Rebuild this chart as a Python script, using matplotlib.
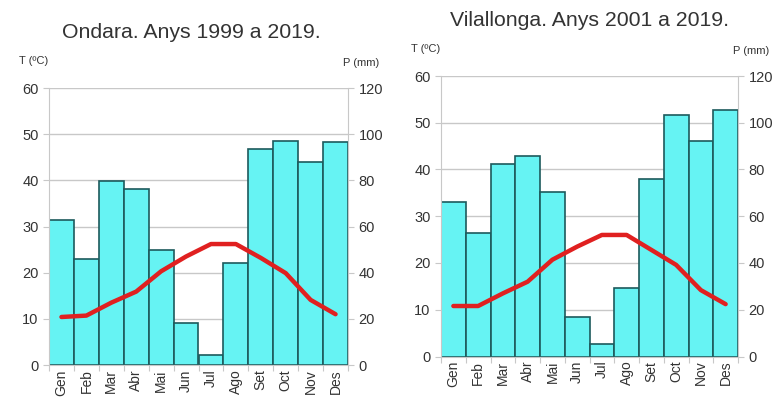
import matplotlib
matplotlib.use("Agg")
import matplotlib.pyplot as plt
import numpy as np

plt.rcParams['font.family'] = ['Liberation Sans', 'DejaVu Sans']

months = ['Gen', 'Feb', 'Mar', 'Abr', 'Mai', 'Jun', 'Jul', 'Ago', 'Set', 'Oct', 'Nov', 'Des']

ondara_prec = [62.6, 46.0, 79.7, 76.4, 50.0, 18.1, 4.3, 44.2, 93.5, 97.1, 88.0, 96.4]
ondara_temp = [10.4, 10.7, 13.5, 15.9, 20.3, 23.5, 26.2, 26.2, 23.2, 19.9, 14.1, 11.0]

vila_prec = [66.0, 52.8, 82.4, 85.9, 70.2, 17.0, 5.2, 29.5, 76.0, 103.4, 92.0, 105.6]
vila_temp = [10.8, 10.8, 13.5, 16.0, 20.7, 23.5, 26.0, 26.0, 22.8, 19.6, 14.2, 11.2]

BAR = '#66f3f3'
EDGE = '#1d5a5c'
RED = '#e02020'
GRID = '#c8c8c8'
TXT = '#333333'

fig = plt.figure(figsize=(7.77, 4.11), dpi=100)


def climograph(rect, title, title_xy, prec, temp):
    W, H = 777.0, 411.0
    x0, y0, x1, y1 = rect
    ax = fig.add_axes([x0 / W, 1 - y1 / H, (x1 - x0) / W, (y1 - y0) / H])
    ax2 = ax.twinx()
    ax.set_zorder(ax2.get_zorder() + 1)
    ax.patch.set_visible(False)

    x = np.arange(len(months))
    ax2.bar(x, prec, width=1.0, color=BAR, edgecolor=EDGE, linewidth=1.2, zorder=2)
    ax2.set_ylim(0, 120)
    ax2.set_yticks(np.arange(0, 121, 20))
    ax2.grid(axis='y', color=GRID, linewidth=1, zorder=0)
    ax2.set_axisbelow(True)

    ax.plot(x, temp, color=RED, linewidth=3.2, solid_capstyle='round')
    ax.set_ylim(0, 60)
    ax.set_yticks(np.arange(0, 61, 10))
    ax.set_xlim(-0.5, 11.5)
    ax.set_xticks(np.arange(-0.5, 12, 1))
    ax.set_xticklabels([])
    ax.set_xticks(x, minor=True)
    ax.set_xticklabels(months, minor=True, rotation=90, fontsize=10, color=TXT)
    ax.tick_params(axis='x', which='minor', length=0, pad=3)
    ax.tick_params(axis='x', which='major', length=4, color=GRID)

    for a in (ax, ax2):
        for s in a.spines.values():
            s.set_visible(False)
        a.tick_params(axis='y', length=4, color=GRID, labelcolor=TXT, labelsize=10.5)
    ax.spines['left'].set_visible(True)
    ax.spines['left'].set_color(GRID)
    ax2.spines['right'].set_visible(True)
    ax2.spines['right'].set_color(GRID)
    ax2.spines['bottom'].set_visible(True)
    ax2.spines['bottom'].set_color(GRID)

    fig.text(title_xy[0] / W, 1 - title_xy[1] / H, title, ha='center', va='center',
             fontsize=15.3, color=TXT)
    fig.text((x0 - 30) / W, 1 - (y0 - 27) / H, 'T (ºC)', ha='left', va='center',
             fontsize=8, color=TXT)
    fig.text((x1 + 31) / W, 1 - (y0 - 25) / H, 'P (mm)', ha='right', va='center',
             fontsize=8, color=TXT)
    return ax


climograph((49, 88, 348, 365), 'Ondara. Anys 1999 a 2019.', (191, 33), ondara_prec, ondara_temp)
climograph((441, 76, 738, 356.5), 'Vilallonga. Anys 2001 a 2019.', (590, 21), vila_prec, vila_temp)

fig.savefig('out.png', dpi=100)
